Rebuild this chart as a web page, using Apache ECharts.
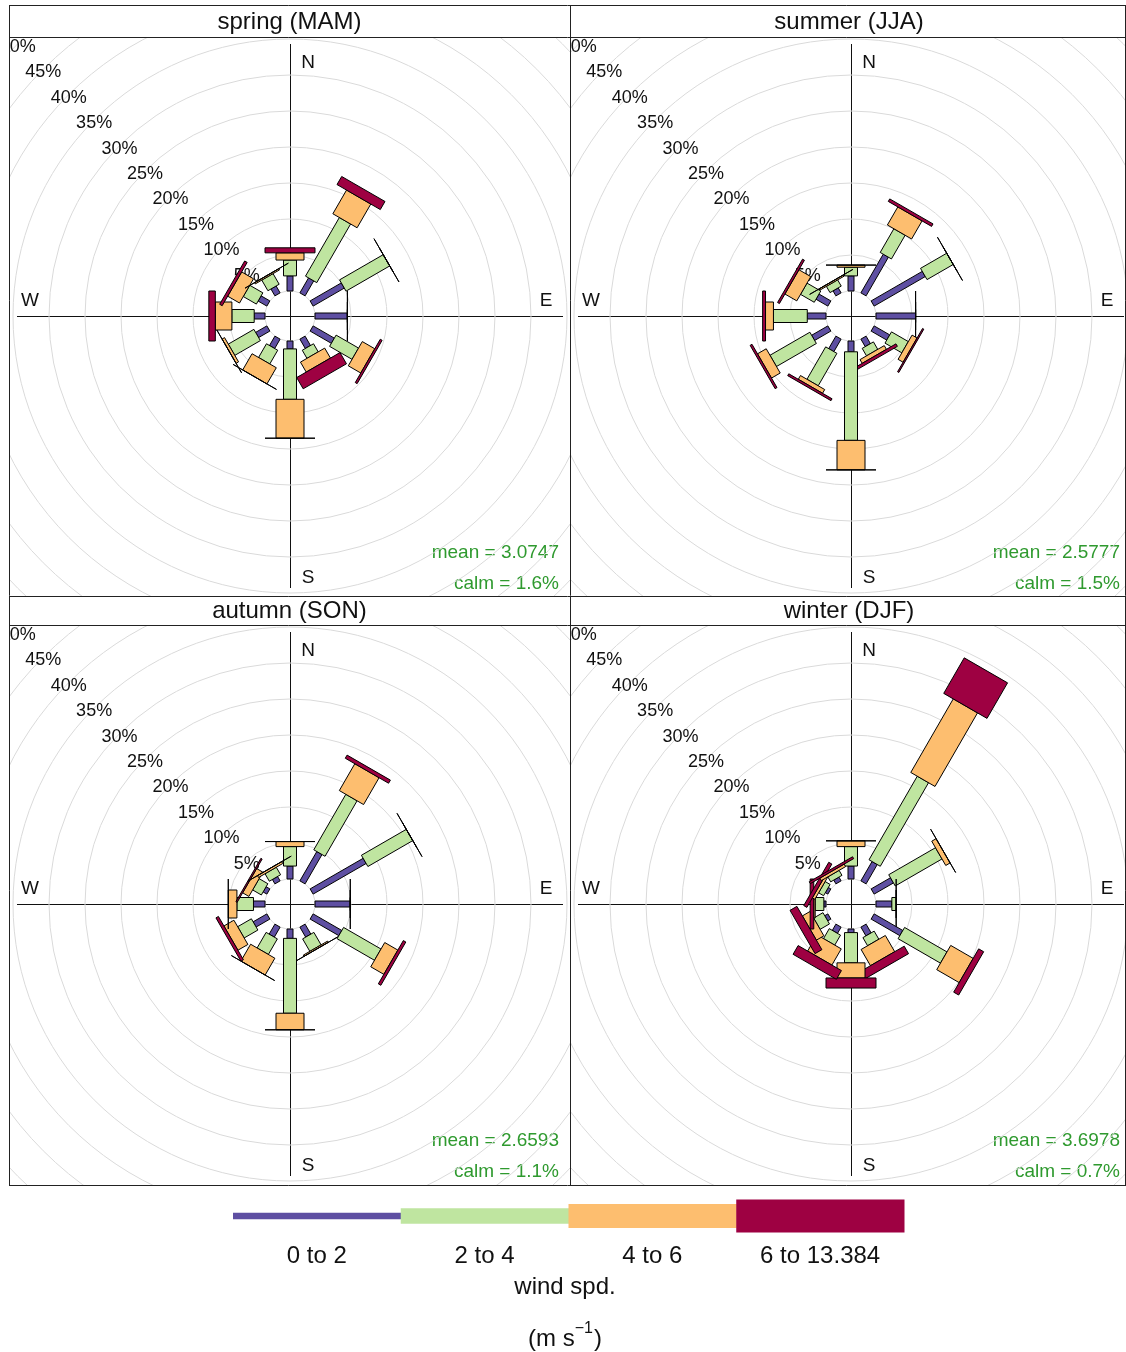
<!DOCTYPE html>
<html>
<head>
<meta charset="utf-8">
<title>Wind rose by season</title>
<script src="https://cdn.jsdelivr.net/npm/echarts@6.0.0/dist/echarts.min.js"></script>
<style>
  html, body { margin: 0; padding: 0; background: #fff; }
  body { width: 1126px; height: 1352px; position: relative; overflow: hidden; }
  .panel { position: absolute; overflow: hidden; }
  #frame { position: absolute; left: 0; top: 0; width: 1126px; height: 1352px; z-index: 10; pointer-events: none; }
</style>
</head>
<body>
<div id="panel0" class="panel"></div>
<div id="panel1" class="panel"></div>
<div id="panel2" class="panel"></div>
<div id="panel3" class="panel"></div>
<div id="frame"></div>
<script>
// Wind direction sectors, degrees clockwise from north
const directions = [0, 30, 60, 90, 120, 150, 180, 210, 240, 270, 300, 330];
// Wind speed intervals (m/s)
const speedBins = ['0 to 2', '2 to 4', '4 to 6', '6 to 13.384'];
const seasons = ['spring (MAM)', 'summer (JJA)', 'autumn (SON)', 'winter (DJF)'];
// Radial grid (frequency %) and its labels
const gridTicks = [5, 10, 15, 20, 25, 30, 35, 40, 45, 50];
const tickLabels = ['5%', '10%', '15%', '20%', '25%', '30%', '35%', '40%', '45%', '50%'];
const meanSpeed = ['3.0747', '2.5777', '2.6593', '3.6978'];
const calmPercent = ['1.6%', '1.5%', '1.1%', '0.7%'];

// Frequency (%) for each speed interval (rows) and direction sector (columns)
const springFreq = [
  [2.1, 2.4, 5.0, 4.5, 3.4, 1.5, 1.1, 1.5, 1.8, 1.5, 1.4, 1.1],
  [2.2, 9.4, 7.0, 0.0, 3.6, 1.3, 7.0, 2.2, 4.1, 3.1, 2.1, 1.7],
  [1.0, 3.8, 0.0, 0.0, 2.0, 1.6, 5.4, 2.6, 0.4, 2.3, 1.9, 0.2],
  [0.7, 1.3, 0.0, 0.0, 0.3, 1.8, 0.0, 0.0, 0.0, 0.9, 0.4, 0.0]
];
const summerFreq = [
  [2.1, 6.2, 8.2, 5.5, 2.5, 1.2, 1.5, 2.0, 2.6, 2.6, 1.9, 0.8],
  [1.2, 3.8, 4.2, 0.0, 2.7, 1.2, 12.3, 5.2, 6.4, 4.7, 2.2, 1.0],
  [0.3, 2.9, 0.0, 0.0, 0.8, 0.6, 4.1, 0.6, 1.4, 1.1, 1.9, 0.2],
  [0.0, 0.4, 0.0, 0.0, 0.2, 0.4, 0.0, 0.3, 0.3, 0.4, 0.3, 0.0]
];
const autumnFreq = [
  [1.8, 4.7, 8.5, 4.9, 4.6, 1.6, 1.3, 1.6, 2.2, 1.6, 0.6, 0.7],
  [2.7, 8.9, 7.2, 0.0, 6.0, 2.0, 10.4, 2.5, 2.2, 2.3, 1.4, 1.2],
  [0.7, 4.3, 0.0, 0.0, 2.1, 0.2, 2.3, 2.7, 1.6, 1.2, 1.0, 0.3],
  [0.0, 0.5, 0.0, 0.0, 0.4, 0.0, 0.0, 0.0, 0.4, 0.0, 0.2, 0.0]
];
const winterFreq = [
  [1.8, 3.1, 3.1, 2.2, 4.6, 1.4, 0.5, 1.0, 0.5, 0.3, 0.4, 0.6],
  [2.7, 13.4, 7.5, 0.6, 6.8, 1.3, 4.2, 1.6, 1.5, 1.2, 0.8, 0.8],
  [0.8, 11.8, 0.7, 0.0, 3.6, 2.6, 2.1, 2.6, 1.2, 0.2, 0.4, 0.4],
  [0.0, 5.7, 0.0, 0.0, 0.8, 1.2, 1.4, 1.4, 1.1, 0.5, 0.5, 0.3]
];
const seasonFreq = [springFreq, summerFreq, autumnFreq, winterFreq];

// Styling
const FONT = '"Liberation Sans", Arial, Helvetica, sans-serif';
const binColours = ['#5E4FA2', '#BFE5A0', '#FDBE6F', '#9E0142'];
const paddleWidth = [6, 13, 28, 50];           // px, one per speed interval
const keyHeight = [6.6, 15.4, 24.2, 33];       // px, colour key bars
const panelBoxes = [
  { left: 9,   top: 37,  width: 561, height: 559 },
  { left: 570, top: 37,  width: 561, height: 559 },
  { left: 9,   top: 625, width: 561, height: 560 },
  { left: 570, top: 625, width: 561, height: 560 }
];
const CX = 281, CY = 279;                      // rose centre inside a panel
const HOLE = 25, OUTER = 385;                  // px radius of 0% and 50%

function stackedItems(freq) {
  const items = [];
  directions.forEach((dir, i) => {
    let base = 0;
    for (let k = 0; k < speedBins.length; k++) {
      const top = base + freq[k][i];
      items.push([base, dir, top, k]);
      base = top;
    }
  });
  return items;
}

function renderPaddle(params, api) {
  const r0 = api.value(0), ang = api.value(1), r1 = api.value(2), k = api.value(3);
  const a = api.coord([0, ang]);
  const b = api.coord([50, ang]);
  let ux = b[0] - a[0], uy = b[1] - a[1];
  const len = Math.hypot(ux, uy);
  ux /= len; uy /= len;
  const nx = -uy, ny = ux;
  const h = paddleWidth[k] / 2;
  const p0 = api.coord([r0, ang]);
  const p1 = api.coord([r1, ang]);
  return {
    type: 'polygon',
    shape: {
      points: [
        [p0[0] + nx * h, p0[1] + ny * h],
        [p1[0] + nx * h, p1[1] + ny * h],
        [p1[0] - nx * h, p1[1] - ny * h],
        [p0[0] - nx * h, p0[1] - ny * h]
      ]
    },
    style: { fill: binColours[k], stroke: '#000', lineWidth: 1 }
  };
}

function panelOption(idx) {
  const textStyle = (t, size, color, align) => ({
    text: t, fontSize: size, fontFamily: FONT, fill: color,
    align: align || 'center', verticalAlign: 'middle'
  });
  return {
    animation: false,
    polar: { center: [CX, CY], radius: [HOLE, OUTER] },
    angleAxis: {
      type: 'value', min: 0, max: 360, startAngle: 90, clockwise: true,
      axisLine: { show: false }, axisTick: { show: false },
      axisLabel: { show: false }, splitLine: { show: false }
    },
    radiusAxis: {
      type: 'value', min: 0, max: 50, interval: 5,
      axisLine: { show: false }, axisTick: { show: false }, axisLabel: { show: false },
      splitLine: { show: true, lineStyle: { color: '#dadada', width: 1 } }
    },
    graphic: [
      { type: 'line', z: 0, shape: { x1: CX + 0.5, y1: CY - 272, x2: CX + 0.5, y2: CY + 272 },
        style: { stroke: '#111', lineWidth: 1 } },
      { type: 'line', z: 0, shape: { x1: CX - 273, y1: CY + 0.5, x2: CX + 273, y2: CY + 0.5 },
        style: { stroke: '#111', lineWidth: 1 } },
      { type: 'text', x: CX + 18, y: CY - 253, style: textStyle('N', 19, '#111') },
      { type: 'text', x: CX + 18, y: CY + 262, style: textStyle('S', 19, '#111') },
      { type: 'text', x: CX - 260, y: CY - 15, style: textStyle('W', 19, '#111') },
      { type: 'text', x: CX + 256, y: CY - 15, style: textStyle('E', 19, '#111') },
      { type: 'text', x: CX + 269, y: CY + 237,
        style: textStyle('mean = ' + meanSpeed[idx], 19, '#2f9a2f', 'right') },
      { type: 'text', x: CX + 269, y: CY + 268,
        style: textStyle('calm = ' + calmPercent[idx], 19, '#2f9a2f', 'right') }
    ],
    series: [
      {
        type: 'scatter', coordinateSystem: 'polar', z: 1, silent: true,
        symbol: 'circle', symbolSize: 1, itemStyle: { color: 'rgba(0,0,0,0)' },
        data: gridTicks.map(v => [v, 315]),
        label: {
          show: true, position: 'inside', offset: [0, 3], fontSize: 18, fontFamily: FONT,
          color: '#111', textBorderWidth: 0, opacity: 1,
          formatter: p => tickLabels[p.dataIndex]
        }
      },
      {
        type: 'custom', coordinateSystem: 'polar', z: 3, silent: true,
        encode: { radius: 0, angle: 1 },
        data: stackedItems(seasonFreq[idx]),
        renderItem: renderPaddle
      }
    ]
  };
}

panelBoxes.forEach((box, i) => {
  const el = document.getElementById('panel' + i);
  Object.assign(el.style, {
    left: box.left + 'px', top: box.top + 'px',
    width: box.width + 'px', height: box.height + 'px'
  });
  echarts.init(el, null, { renderer: 'canvas' }).setOption(panelOption(i));
});

// Frame: panel borders, strip titles and the colour key
const frameGraphics = [];
const hLine = (y, x1, x2) => ({ type: 'line', shape: { x1, y1: y + 0.5, x2, y2: y + 0.5 },
  style: { stroke: '#222', lineWidth: 1 } });
const vLine = (x, y1, y2) => ({ type: 'line', shape: { x1: x + 0.5, y1, x2: x + 0.5, y2 },
  style: { stroke: '#222', lineWidth: 1 } });
[5, 37, 596, 625, 1185].forEach(y => frameGraphics.push(hLine(y, 9, 1126)));
[9, 570, 1125].forEach(x => frameGraphics.push(vLine(x, 5, 1186)));
const stripCentres = [[289.5, 22.5], [849, 22.5], [289.5, 611.5], [849, 611.5]];
seasons.forEach((s, i) => frameGraphics.push({
  type: 'text', x: stripCentres[i][0], y: stripCentres[i][1],
  style: { text: s, fontSize: 24, fontFamily: FONT, fill: '#111', align: 'center', verticalAlign: 'middle' }
}));
const keyLeft = 233, keyStep = 167.75, keyMid = 1216;
speedBins.forEach((lab, k) => {
  frameGraphics.push({
    type: 'rect',
    shape: { x: keyLeft + k * keyStep, y: keyMid - keyHeight[k] / 2, width: keyStep + 0.5, height: keyHeight[k] },
    style: { fill: binColours[k] }
  });
  frameGraphics.push({
    type: 'text', x: keyLeft + (k + 0.5) * keyStep, y: 1256,
    style: { text: lab, fontSize: 24, fontFamily: FONT, fill: '#111', align: 'center', verticalAlign: 'middle' }
  });
});
frameGraphics.push({
  type: 'text', x: 565, y: 1287,
  style: { text: 'wind spd.', fontSize: 24, fontFamily: FONT, fill: '#111', align: 'center', verticalAlign: 'middle' }
});
frameGraphics.push({
  type: 'text', x: 565, y: 1336,
  style: {
    text: '{b|(m s}{s|\u22121}{b|)}', align: 'center', verticalAlign: 'middle',
    rich: {
      b: { fontSize: 24, fontFamily: FONT, fill: '#111', lineHeight: 30, verticalAlign: 'bottom' },
      s: { fontSize: 16, fontFamily: FONT, fill: '#111', lineHeight: 30, verticalAlign: 'top', padding: [0, 1, 0, 0] }
    }
  }
});
echarts.init(document.getElementById('frame'), null, { renderer: 'canvas' }).setOption({
  animation: false,
  graphic: frameGraphics
});
</script>
</body>
</html>
